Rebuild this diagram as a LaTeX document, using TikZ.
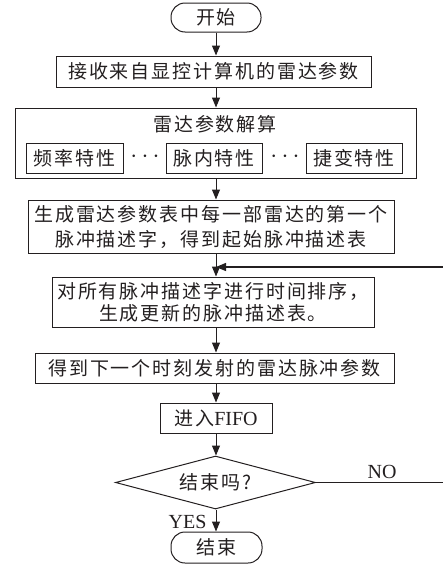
\documentclass[tikz,border=0pt]{standalone}
\usepackage{fontspec}
\setmainfont{Liberation Serif}
\newfontfamily\cjk[LetterSpace=10]{Noto Sans CJK SC}
\usetikzlibrary{shapes.geometric,arrows.meta}
\definecolor{ink}{HTML}{231F20}
\begin{document}
\begin{tikzpicture}[x=1pt,y=-1pt, line width=1pt, draw=ink, text=ink,
  box/.style={draw=ink, rectangle, inner sep=0pt, font=\cjk\fontsize{19}{25}\selectfont, align=center},
  term/.style={box, rounded corners=14pt},
  plain/.style={inner sep=0pt, font=\cjk\fontsize{19}{25}\selectfont},
  lat/.style={inner sep=0pt, font=\fontsize{20}{22}\selectfont},
  dotsty/.style={inner sep=0pt, font=\fontsize{26}{26}\selectfont},
  arr/.style={draw=ink, -{Triangle[length=10pt,width=8pt]}},
]
\useasboundingbox (0,0) rectangle (443,565);

\node[term, minimum width=90pt, minimum height=29pt] (start) at (216,17.5) {开始};
\node[box, minimum width=315pt, minimum height=31pt] (b1) at (213.5,71.5) {接收来自显控计算机的雷达参数};
\node[box, minimum width=401pt, minimum height=70pt] (b2) at (215.5,143) {};
\node[plain] (t2) at (215,124) {雷达参数解算};
\node[box, minimum width=97pt, minimum height=30pt] (i1) at (74.5,158) {频率特性};
\node[box, minimum width=96pt, minimum height=30pt] (i2) at (214,158) {脉内特性};
\node[box, minimum width=96pt, minimum height=30pt] (i3) at (354,158) {捷变特性};
\node[dotsty] (dots1) at (145,157) {$\cdots$};
\node[dotsty] (dots2) at (285,157) {$\cdots$};
\node[box, minimum width=366pt, minimum height=53pt] (b3) at (211,226.5) {生成雷达参数表中每一部雷达的第一个\\脉冲描述字，得到起始脉冲描述表};
\node[box, minimum width=322pt, minimum height=50pt, font=\cjk\fontsize{19}{22}\selectfont] (b4) at (213,302) {对所有脉冲描述字进行时间排序，\\生成更新的脉冲描述表。};
\node[box, minimum width=359pt, minimum height=30pt] (b5) at (214.5,368) {得到下一个时刻发射的雷达脉冲参数};
\node[box, minimum width=112pt, minimum height=30pt] (b6) at (216,418) {进入{\rmfamily\fontsize{20}{22}\selectfont FIFO}};
\node[box, shape=diamond, shape aspect=3.77, minimum width=200pt, minimum height=53pt] (d) at (215.5,482.5) {结束吗?};
\node[term, minimum width=91pt, minimum height=31pt] (end) at (216.5,547.5) {结束};
\node[lat] (no) at (382,471.5) {NO};
\node[lat] (yes) at (187.5,522) {YES};

\coordinate (fb) at (446,267);

\draw[arr] (start.south) -- (start.south |- b1.north);
\draw[arr] (start.south |- b1.south) -- (start.south |- b2.north);
\draw[arr] (start.south |- b2.south) -- (start.south |- b3.north);
\draw[arr] (start.south |- b3.south) -- (start.south |- b4.north);
\draw[arr] (start.south |- b4.south) -- (start.south |- b5.north);
\draw[arr] (start.south |- b5.south) -- (start.south |- b6.north);
\draw[arr] (start.south |- b6.south) -- (start.south |- d.north);
\draw[arr] (start.south |- d.south) -- (start.south |- end.north);
\draw[arr, line width=1.3pt] (d.east) -| (fb) -- (fb -| start.south);
\end{tikzpicture}
\end{document}
